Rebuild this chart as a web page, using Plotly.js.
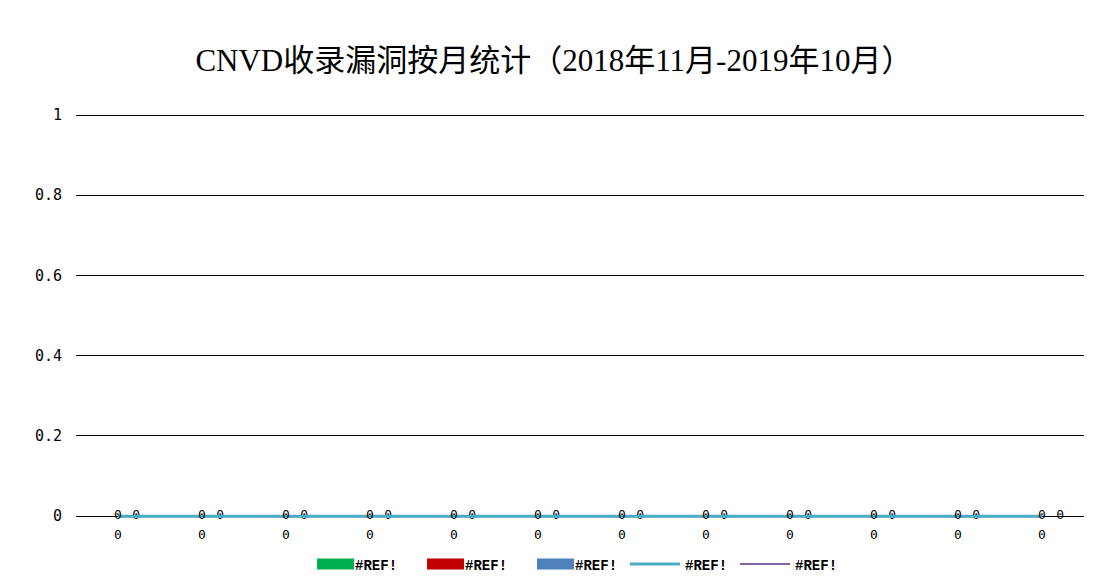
<!DOCTYPE html>
<html>
<head>
<meta charset="utf-8">
<script src="https://cdn.plot.ly/plotly-3.0.1.min.js"></script>
<style>html,body{margin:0;padding:0;background:#fff;}#chart{width:1099px;height:584px;}</style>
</head>
<body>
<div id="chart"></div>
<script>
const months = ["2018-11","2018-12","2019-01","2019-02","2019-03","2019-04","2019-05","2019-06","2019-07","2019-08","2019-09","2019-10"];
const tickLabels = ["0","0","0","0","0","0","0","0","0","0","0","0"];
const barGreen = [0,0,0,0,0,0,0,0,0,0,0,0];
const barRed = [0,0,0,0,0,0,0,0,0,0,0,0];
const barBlue = [0,0,0,0,0,0,0,0,0,0,0,0];
const lineTeal = [0,0,0,0,0,0,0,0,0,0,0,0];
const linePurple = [0,0,0,0,0,0,0,0,0,0,0,0];
const seriesNames = ["#REF!","#REF!","#REF!","#REF!","#REF!"];
const yTickVals = [0, 0.2, 0.4, 0.6, 0.8, 1];
const yTickText = ["0","0.2","0.4","0.6","0.8","1"];

const labelFont = {family: "DejaVu Sans Mono, monospace", size: 13, color: "#000"};

const traces = [
  {type: "bar", x: months, y: barGreen, name: seriesNames[0], marker: {color: "#00B050"}, legendrank: 1},
  {type: "bar", x: months, y: barRed, name: seriesNames[1], marker: {color: "#C00000"}, legendrank: 2},
  {type: "bar", x: months, y: barBlue, name: seriesNames[2], marker: {color: "#4F81BD"}, legendrank: 3},
  {type: "scatter", mode: "lines+markers+text", x: months, y: linePurple, name: seriesNames[4],
   line: {color: "#8064A2", width: 2}, marker: {size: 21, color: "rgba(0,0,0,0)"}, cliponaxis: false,
   text: linePurple.map(String), textposition: "middle right", textfont: labelFont, legendrank: 5},
  {type: "scatter", mode: "lines+text", x: months, y: lineTeal, name: seriesNames[3],
   line: {color: "#4BACC6", width: 3}, cliponaxis: false,
   text: lineTeal.map(String), textposition: "middle center", textfont: labelFont, legendrank: 4}
];

const layout = {
  width: 1099, height: 584,
  margin: {l: 76, r: 15, t: 113, b: 63, autoexpand: false},
  paper_bgcolor: "#fff", plot_bgcolor: "#fff",
  title: {text: "CNVD收录漏洞按月统计（2018年11月-2019年10月）",
          font: {family: "Liberation Serif, Noto Sans CJK SC, serif", size: 31, color: "#000"},
          x: 0.504, xanchor: "center", y: 0.897, yanchor: "middle"},
  barmode: "group",
  showlegend: true,
  legend: {orientation: "h", x: 0.2173, xanchor: "left", y: -0.1066, yanchor: "middle",
           font: {family: "Liberation Mono, monospace", size: 14, color: "#000", weight: "bold"},
           itemwidth: 50, entrywidth: 45, entrywidthmode: "pixels", traceorder: "normal"},
  xaxis: {type: "category", tickvals: months, ticktext: tickLabels, range: [-0.5, 11.5],
          showline: false, showgrid: false, zeroline: false,
          ticks: "", ticklabelstandoff: 4,
          tickfont: {family: "DejaVu Sans Mono, monospace", size: 13, color: "#000"},
          fixedrange: true},
  yaxis: {range: [-0.012, 1.005], tickvals: yTickVals, ticktext: yTickText,
          showgrid: true, gridcolor: "#000", gridwidth: 1,
          zeroline: true, zerolinecolor: "#000", zerolinewidth: 1, showline: false,
          ticks: "", ticklabelstandoff: 13,
          tickfont: {family: "DejaVu Sans Mono, monospace", size: 15, color: "#000"},
          fixedrange: true}
};

function styleLegend(gd) {
  // wide rectangles for the bar series' legend swatches, and swatches set close to their text
  gd.querySelectorAll("g.legend g.legendpoints").forEach(function(g) {
    g.setAttribute("transform", "translate(12,0)");
    g.querySelectorAll("path").forEach(function(p) {
      var d = (p.getAttribute("d") || "").replace(/\s/g, "");
      if (d === "M6,6H-6V-6H6Z") {
        p.setAttribute("d", "M-20,5.5H17V-5.5H-20Z");
      }
    });
  });
}

const gd = document.getElementById("chart");
Plotly.newPlot(gd, traces, layout, {displayModeBar: false, staticPlot: true}).then(function() {
  styleLegend(gd);
  gd.on("plotly_afterplot", function() { styleLegend(gd); });
});
</script>
</body>
</html>
